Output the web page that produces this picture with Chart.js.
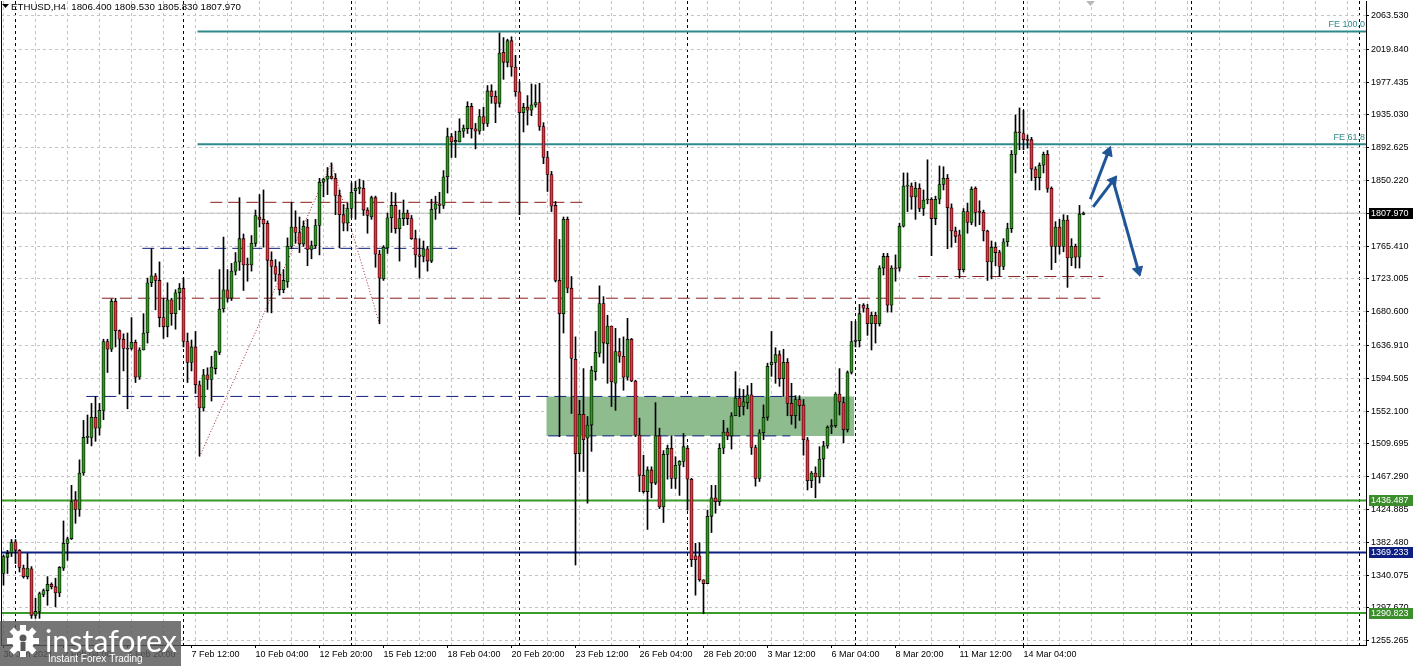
<!DOCTYPE html>
<html>
<head>
<meta charset="utf-8">
<script src="https://cdn.jsdelivr.net/npm/chart.js@4.4.0/dist/chart.umd.min.js"></script>
<style>
  html, body { margin: 0; padding: 0; background: #fff; overflow: hidden; }
  #wrap { width: 1419px; height: 666px; position: relative; }
</style>
</head>
<body>
<div id="wrap"><canvas id="chart" width="1419" height="666"></canvas></div>
<script>
// ETHUSD H4 candles (index 0 = first bar on the left)
const candleOpen = [
  1342,1363,1369,1383,1372,1349,1338,1348,1288,1293,
  1315,1320,1328,1325,1317,1349,1381,1387,1437,1425,
  1472,1518,1518,1544,1530,1553,1642,1632,1694,1656,
  1645,1633,1633,1641,1596,1631,1653,1718,1727,1721,
  1673,1661,1696,1678,1705,1711,1642,1615,1635,1586,
  1556,1599,1593,1607,1628,1684,1709,1698,1733,1745,
  1775,1742,1741,1769,1803,1800,1795,1747,1739,1729,
  1709,1719,1765,1790,1783,1768,1790,1761,1766,1792,
  1848,1852,1856,1853,1831,1806,1795,1814,1837,1840,
  1840,1812,1803,1828,1755,1723,1763,1802,1818,1788,
  1801,1808,1801,1775,1754,1752,1762,1746,1813,1820,
  1818,1855,1907,1900,1900,1914,1917,1946,1917,1914,
  1933,1924,1966,1959,1950,2016,2003,2031,1997,1965,
  1938,1945,1941,1948,1951,1920,1880,1858,1818,1721,
  1678,1800,1711,1619,1497,1548,1517,1534,1603,1627,
  1691,1639,1662,1588,1629,1623,1596,1645,1591,1521,
  1469,1448,1476,1459,1520,1428,1496,1504,1465,1482,
  1487,1504,1464,1365,1365,1334,1329,1416,1440,1435,
  1504,1525,1520,1546,1569,1558,1563,1573,1505,1465,
  1524,1544,1612,1615,1625,1594,1615,1562,1546,1567,
  1560,1515,1462,1472,1467,1490,1507,1532,1533,1574,
  1563,1528,1602,1642,1643,1689,1685,1665,1676,1665,
  1737,1752,1689,1737,1737,1791,1843,1843,1829,1840,
  1814,1825,1826,1801,1826,1845,1853,1815,1785,1780,
  1735,1810,1796,1840,1810,1809,1785,1745,1764,1757,
  1739,1771,1788,1884,1913,1911,1903,1903,1865,1854,
  1870,1884,1840,1765,1790,1765,1799,1750,1765,1751,
  1806.4
];
const candleHigh = [
  1366,1372,1386,1386,1373,1353,1368,1351,1310,1318,
  1322,1338,1330,1336,1351,1410,1389,1456,1448,1489,
  1540,1547,1562,1571,1562,1645,1645,1697,1698,1657,
  1652,1653,1673,1644,1634,1678,1724,1762,1730,1745,
  1698,1718,1698,1709,1717,1724,1653,1644,1655,1591,
  1606,1608,1623,1630,1735,1777,1735,1743,1757,1828,
  1781,1750,1779,1812,1832,1838,1798,1758,1748,1745,
  1735,1776,1822,1811,1803,1798,1800,1772,1800,1853,
  1853,1867,1873,1859,1838,1819,1821,1847,1849,1852,
  1850,1815,1830,1830,1760,1766,1808,1835,1834,1812,
  1825,1812,1805,1786,1775,1772,1765,1826,1830,1835,
  1863,1918,1911,1914,1930,1922,1952,1950,1924,1942,
  1945,1973,1974,1966,2041,2035,2033,2036,2012,1978,
  1950,1960,1975,1974,1976,1925,1888,1862,1823,1774,
  1803,1803,1726,1648,1566,1607,1545,1610,1655,1714,
  1700,1676,1662,1659,1646,1648,1672,1646,1592,1543,
  1495,1480,1480,1563,1530,1501,1508,1520,1493,1488,
  1523,1507,1465,1381,1382,1334,1424,1456,1456,1510,
  1540,1530,1550,1603,1581,1580,1585,1588,1508,1528,
  1560,1614,1655,1634,1630,1632,1620,1588,1572,1572,
  1567,1518,1474,1480,1506,1513,1533,1541,1576,1607,
  1570,1604,1668,1668,1690,1691,1690,1680,1680,1740,
  1756,1756,1740,1754,1795,1860,1860,1847,1848,1846,
  1838,1877,1828,1830,1869,1868,1858,1820,1790,1786,
  1814,1821,1842,1842,1824,1812,1786,1772,1770,1760,
  1775,1795,1889,1935,1944,1941,1909,1906,1868,1873,
  1887,1889,1842,1797,1800,1806,1805,1775,1768,1818,
  1809.53
];
const candleLow = [
  1327,1342,1364,1355,1344,1336,1335,1284,1284,1284,
  1312,1301,1322,1299,1312,1346,1359,1386,1407,1416,
  1469,1510,1507,1513,1521,1541,1602,1629,1635,1574,
  1604,1555,1631,1589,1593,1631,1640,1713,1683,1661,
  1646,1648,1663,1658,1683,1635,1589,1604,1575,1494,
  1552,1580,1565,1600,1625,1680,1693,1695,1728,1734,
  1708,1720,1733,1765,1790,1764,1680,1679,1720,1702,
  1705,1712,1762,1769,1757,1765,1740,1749,1763,1754,
  1829,1832,1852,1806,1763,1785,1785,1802,1800,1833,
  1805,1782,1800,1738,1665,1721,1756,1783,1782,1746,
  1792,1793,1774,1738,1724,1745,1733,1744,1800,1808,
  1814,1834,1880,1880,1900,1906,1911,1905,1891,1910,
  1915,1920,1950,1925,1945,1981,1997,1985,1959,1806,
  1913,1922,1934,1945,1915,1872,1836,1810,1719,1519,
  1653,1705,1549,1353,1474,1474,1433,1500,1592,1622,
  1614,1588,1558,1553,1615,1579,1592,1590,1519,1448,
  1446,1399,1440,1457,1426,1408,1464,1452,1452,1443,
  1480,1424,1351,1314,1332,1290,1329,1395,1420,1430,
  1497,1515,1503,1546,1545,1547,1555,1496,1455,1461,
  1515,1540,1597,1588,1584,1571,1546,1535,1530,1540,
  1495,1450,1453,1440,1459,1467,1504,1523,1531,1547,
  1511,1525,1600,1635,1635,1680,1650,1631,1640,1662,
  1728,1680,1680,1720,1733,1790,1810,1813,1800,1810,
  1805,1820,1753,1793,1820,1838,1762,1764,1770,1724,
  1732,1782,1793,1791,1793,1772,1721,1723,1740,1726,
  1735,1765,1783,1860,1890,1890,1892,1850,1838,1838,
  1860,1835,1735,1744,1755,1758,1712,1740,1737,1737,
  1805.83
];
const candleClose = [
  1364,1368,1382,1372,1350,1338,1349,1288,1293,1316,
  1320,1328,1325,1317,1350,1381,1387,1435,1425,1472,
  1518,1519,1544,1530,1553,1642,1632,1694,1656,1645,
  1633,1632,1641,1596,1631,1653,1718,1727,1721,1673,
  1661,1696,1678,1705,1711,1642,1615,1635,1586,1556,
  1599,1593,1609,1629,1684,1709,1698,1733,1745,1775,
  1741,1741,1769,1805,1800,1794,1747,1739,1729,1709,
  1721,1765,1790,1783,1768,1791,1761,1766,1792,1848,
  1852,1856,1853,1831,1806,1795,1814,1835,1840,1841,
  1812,1805,1828,1755,1724,1764,1802,1818,1788,1801,
  1808,1801,1775,1754,1752,1762,1746,1813,1820,1818,
  1855,1907,1900,1902,1914,1918,1946,1917,1914,1933,
  1924,1966,1959,1950,2015,2003,2031,1997,1965,1938,
  1945,1941,1948,1951,1920,1880,1858,1817,1721,1678,
  1800,1711,1620,1497,1548,1515,1534,1605,1628,1691,
  1640,1662,1590,1629,1623,1596,1645,1591,1521,1469,
  1448,1476,1459,1520,1428,1496,1504,1465,1482,1487,
  1506,1464,1360,1360,1334,1329,1416,1440,1435,1504,
  1525,1520,1546,1569,1558,1564,1573,1505,1465,1524,
  1544,1610,1615,1625,1594,1615,1562,1546,1567,1559,
  1515,1462,1472,1467,1490,1507,1531,1533,1574,1564,
  1528,1602,1642,1644,1678,1685,1665,1676,1665,1737,
  1752,1689,1737,1736,1791,1843,1844,1829,1840,1814,
  1825,1826,1801,1826,1845,1853,1815,1785,1778,1735,
  1810,1796,1839,1809,1809,1785,1745,1764,1757,1739,
  1771,1788,1884,1913,1912,1903,1902,1865,1854,1870,
  1884,1840,1765,1790,1765,1799,1750,1765,1751,1807,
  1807.97
];

// time axis labels (bar index -> text)
const xLabelIndex = [0, 15, 31, 47, 63, 79, 95, 111, 127, 143, 159, 175, 191, 207, 223, 239, 255];
const xLabelText = ['30 Jan 2021', '2 Feb 04:00', '4 Feb 20:00', '7 Feb 12:00', '10 Feb 04:00', '12 Feb 20:00',
  '15 Feb 12:00', '18 Feb 04:00', '20 Feb 20:00', '23 Feb 12:00', '26 Feb 04:00', '28 Feb 20:00',
  '3 Mar 12:00', '6 Mar 04:00', '8 Mar 20:00', '11 Mar 12:00', '14 Mar 04:00'];
const xGridIndex = [0, 8, 16, 24, 32, 40, 48, 56, 64, 72, 80, 88, 96, 104, 112, 120, 128, 136, 144, 152, 160,
  168, 176, 184, 192, 200, 208, 216, 224, 232, 240, 248, 256, 264, 272, 280, 288, 296, 304, 312, 320, 328, 336];
const weekSeparatorIndex = [3, 45, 87, 129, 171, 213, 255, 297, 339];

// price axis
const yTickValues = [2063.53, 2019.84, 1977.435, 1935.03, 1892.625, 1850.22, 1807.815, 1765.41, 1723.005,
  1680.6, 1636.91, 1594.505, 1552.1, 1509.695, 1467.29, 1424.885, 1382.48, 1340.075, 1297.67, 1255.265];

// drawn objects
const lastPrice = 1807.97;
const supportLevels = [1436.487, 1369.233, 1290.823];
const feLevels = [2043, 1897];
const feLabels = ['FE 100.0', 'FE 61.8'];
const feStart = 48.5;
const dashedLevels = [
  { price: 1822, from: 51.7, to: 145.4, color: '#8c1c1c' },
  { price: 1762.5, from: 34.7, to: 113.4, color: '#0d1f80' },
  { price: 1698, from: 24.6, to: 274.2, color: '#8c1c1c' },
  { price: 1726, from: 228.7, to: 275, color: '#8c1c1c' },
  { price: 1571, from: 20.7, to: 198, color: '#0d1f80' },
  { price: 1520, from: 136.2, to: 196.7, color: '#0d1f80' }
];
const zoneTop = 1571, zoneBottom = 1520, zoneFrom = 135.7, zoneTo = 212.7;
const zigzagIndex = [49, 82, 94];
const zigzagPrice = [1493, 1873, 1665];
const arrowPaths = [
  [[271.7, 1826], [276.2, 1887]],
  [[272.4, 1816], [277.4, 1850]],
  [[277.4, 1850], [283.7, 1734]]
];

const xMin = -0.625, xMax = 340.625;
const yMin = 1249.6, yMax = 2082.3;

const GREEN = '#2e9a1d', RED = '#f0303f', TEAL = '#2e8a8a', LGREEN = '#3a9a2a', NAVY = '#0d1f80', ARROW = '#1f5596';
const FONT = '"Liberation Sans", Arial, sans-serif';

function hline(price, from, to, color, width, dash, order) {
    return {
        type: 'line',
        data: [{ x: from, y: price }, { x: to, y: price }],
        borderColor: color,
        borderWidth: width,
        borderDash: dash || [],
        pointRadius: 0,
        fill: false,
        xAxisID: 'x',
        yAxisID: 'y',
        order: order
    };
}

function arrowRotation(ctx) {
    const pts = ctx.dataset.data;
    const sx = ctx.chart.scales.x, sy = ctx.chart.scales.y;
    const dx = sx.getPixelForValue(pts[1].x) - sx.getPixelForValue(pts[0].x);
    const dy = sy.getPixelForValue(pts[1].y) - sy.getPixelForValue(pts[0].y);
    return Math.atan2(dx, -dy) * 180 / Math.PI;
}

const wickData = candleOpen.map((o, i) => ({ x: i, y: [candleLow[i], candleHigh[i]] }));
const bodyData = candleOpen.map((o, i) => ({ x: i, y: [o, candleClose[i]] }));

const datasets = [];

// candles on top
datasets.push({
    type: 'bar', data: bodyData, xAxisID: 'x', yAxisID: 'y', order: 1,
    grouped: false, barThickness: 3.2, minBarLength: 1,
    borderWidth: 0.8, borderColor: '#000', borderSkipped: false,
    backgroundColor: ctx => (ctx.raw && ctx.raw.y[1] >= ctx.raw.y[0]) ? GREEN : RED
});
datasets.push({
    type: 'bar', data: wickData, xAxisID: 'x', yAxisID: 'y', order: 2,
    grouped: false, barThickness: 1, minBarLength: 1,
    borderWidth: 0, backgroundColor: '#000'
});

// support / resistance
supportLevels.forEach((p, k) => {
    datasets.push(hline(p, xMin, xMax, k === 1 ? NAVY : LGREEN, 2, [], 3));
});
feLevels.forEach(p => datasets.push(hline(p, feStart, xMax, TEAL, 2, [], 3)));
dashedLevels.forEach(d => datasets.push(hline(d.price, d.from, d.to, d.color, 1, [12, 6], 4)));
datasets.push(hline(lastPrice, xMin, xMax, '#c0c0c0', 1, [], 8));

// zigzag
datasets.push({
    type: 'line', xAxisID: 'x', yAxisID: 'y', order: 4,
    data: zigzagIndex.map((x, k) => ({ x: x, y: zigzagPrice[k] })),
    borderColor: '#a02828', borderWidth: 1, borderDash: [1, 2], pointRadius: 0, fill: false
});

// arrows
arrowPaths.forEach(path => {
    datasets.push({
        type: 'line', xAxisID: 'x', yAxisID: 'y', order: 0,
        data: path.map(p => ({ x: p[0], y: p[1] })),
        borderColor: ARROW, borderWidth: 3, fill: false,
        pointStyle: 'triangle',
        pointRadius: ctx => ctx.dataIndex === 1 ? 6 : 0,
        pointRotation: arrowRotation,
        pointBackgroundColor: ARROW, pointBorderColor: ARROW, pointBorderWidth: 1
    });
});

// green zone (fill between two edges)
datasets.push({
    type: 'line', xAxisID: 'x', yAxisID: 'y', order: 20,
    data: [{ x: zoneFrom, y: zoneTop }, { x: zoneTo, y: zoneTop }],
    borderWidth: 0, borderColor: 'rgba(0,0,0,0)', pointRadius: 0,
    backgroundColor: '#8fbc8f', fill: '+1'
});
datasets.push({
    type: 'line', xAxisID: 'x', yAxisID: 'y', order: 21,
    data: [{ x: zoneFrom, y: zoneBottom }, { x: zoneTo, y: zoneBottom }],
    borderWidth: 0, borderColor: 'rgba(0,0,0,0)', pointRadius: 0, fill: false
});

const priceBoxes = [
    { value: lastPrice, bg: '#000' },
    { value: supportLevels[0], bg: '#3c8d2c' },
    { value: supportLevels[1], bg: NAVY },
    { value: supportLevels[2], bg: '#3c8d2c' }
];

const overlay = {
    id: 'overlay',
    beforeDraw(chart) {
        const c = chart.ctx;
        c.save();
        c.fillStyle = '#fff';
        c.fillRect(0, 0, chart.width, chart.height);
        c.restore();
    },
    afterDraw(chart) {
        const c = chart.ctx, ys = chart.scales.y, a = chart.chartArea;
        c.save();
        c.strokeStyle = '#000';
        c.lineWidth = 1;
        c.beginPath();
        c.moveTo(a.left + 0.5, a.top);
        c.lineTo(a.left + 0.5, a.bottom);
        c.stroke();

        // title
        c.fillStyle = '#000';
        c.beginPath();
        c.moveTo(2, 4); c.lineTo(9, 4); c.lineTo(5.5, 8); c.closePath();
        c.fill();
        c.font = '9.7px ' + FONT;
        c.textBaseline = 'middle';
        c.textAlign = 'left';
        c.fillText('ETHUSD,H4  1806.400 1809.530 1805.830 1807.970', 11, 7.5);

        // shift marker
        c.fillStyle = '#b8b8b8';
        c.beginPath();
        c.moveTo(1086, 1); c.lineTo(1095, 1); c.lineTo(1090.5, 6); c.closePath();
        c.fill();

        // FE labels
        c.font = '9px ' + FONT;
        c.fillStyle = TEAL;
        c.textAlign = 'right';
        c.textBaseline = 'bottom';
        feLevels.forEach((p, k) => c.fillText(feLabels[k], a.right - 1, ys.getPixelForValue(p) - 2));

        // price boxes on axis
        c.textAlign = 'left';
        c.textBaseline = 'middle';
        priceBoxes.forEach(b => {
            const y = Math.round(ys.getPixelForValue(b.value));
            c.fillStyle = b.bg;
            c.fillRect(1369, y - 5, 44, 11);
            c.fillStyle = '#fff';
            c.fillText(b.value.toFixed(3), 1371, y + 0.5);
        });

        // watermark
        c.fillStyle = 'rgba(88,88,88,0.82)';
        c.fillRect(0, 621, 181, 45);
        c.fillStyle = '#fff';
        const gx = 23, gy = 641;
        for (let k = 0; k < 8; k++) {
            c.save();
            c.translate(gx, gy);
            c.rotate(k * Math.PI / 4);
            c.fillRect(-3, -16, 6, 8);
            c.restore();
        }
        c.beginPath(); c.arc(gx, gy, 11, 0, Math.PI * 2); c.fill();
        c.fillStyle = 'rgba(88,88,88,1)';
        c.beginPath(); c.arc(gx, gy - 3, 3.5, 0, Math.PI * 2); c.fill();
        c.fillRect(gx - 2.5, gy + 1, 5, 9);
        c.fillStyle = '#fff';
        c.font = '30px Lato, "Open Sans", sans-serif';
        c.textBaseline = 'alphabetic';
        const w = c.measureText('instaforex').width;
        const size = 30 * 132 / w;
        c.font = size.toFixed(1) + 'px Lato, "Open Sans", sans-serif';
        c.fillText('instaforex', 45, 652);
        c.font = '10px ' + FONT;
        c.fillText('Instant Forex Trading', 48, 662);
        c.restore();
    }
};

function noPad(s) {
    s.paddingLeft = 0; s.paddingRight = 0; s.paddingTop = 0; s.paddingBottom = 0;
}

function hiddenX(values, color) {
    return {
        type: 'linear', position: 'bottom', min: xMin, max: xMax, offset: false,
        afterBuildTicks: s => { s.ticks = values.map(v => ({ value: v })); },
        afterFit: s => { s.height = 0; noPad(s); },
        ticks: { display: false },
        grid: { color: color, drawTicks: false, offset: false },
        border: { display: false, dash: [3, 3] }
    };
}

new Chart(document.getElementById('chart'), {
    type: 'bar',
    data: { datasets: datasets },
    plugins: [overlay],
    options: {
        responsive: false,
        devicePixelRatio: 1,
        animation: false,
        events: [],
        layout: { autoPadding: false, padding: { left: 1, top: 1, right: 0, bottom: 0 } },
        plugins: { legend: { display: false }, tooltip: { enabled: false } },
        scales: {
            x: {
                type: 'linear', position: 'bottom', min: xMin, max: xMax, offset: false,
                afterBuildTicks: s => { s.ticks = xLabelIndex.map(v => ({ value: v })); },
                afterFit: s => { s.height = 21; noPad(s); },
                ticks: {
                    autoSkip: false, maxRotation: 0, minRotation: 0, align: 'start', padding: 1,
                    color: '#000', font: { family: FONT, size: 9 },
                    callback: v => xLabelText[xLabelIndex.indexOf(v)]
                },
                grid: { drawOnChartArea: false, drawTicks: true, tickLength: 3, tickColor: '#000', offset: false },
                border: { display: true, color: '#000', width: 1 }
            },
            xg: hiddenX(xGridIndex, '#c4c4c4'),
            xs: hiddenX(weekSeparatorIndex, '#000'),
            y: {
                type: 'linear', position: 'right', min: yMin, max: yMax,
                afterBuildTicks: s => { s.ticks = yTickValues.map(v => ({ value: v })); },
                afterFit: s => { s.width = 53; noPad(s); },
                ticks: {
                    padding: 2, color: '#000', font: { family: FONT, size: 9 },
                    callback: v => v.toFixed(3)
                },
                grid: { color: '#c4c4c4', tickColor: '#000', tickLength: 3, tickBorderDash: [] },
                border: { display: true, color: '#000', width: 1, dash: [3, 3] }
            }
        }
    }
});
</script>
</body>
</html>
